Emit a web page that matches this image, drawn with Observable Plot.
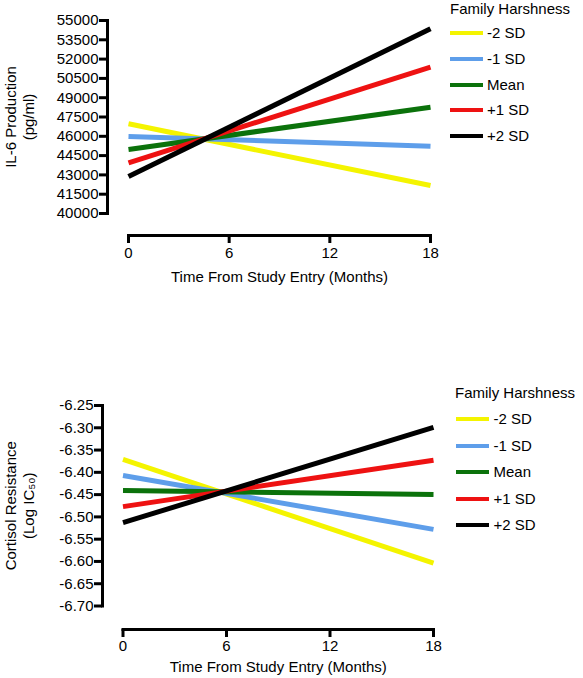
<!DOCTYPE html>
<html><head><meta charset="utf-8">
<script src="https://cdn.jsdelivr.net/npm/d3@7"></script>
<script src="https://cdn.jsdelivr.net/npm/@observablehq/plot@0.6"></script>
<style>
body{margin:0;background:#fff;font-family:"Liberation Sans",Arial,Helvetica,sans-serif;}
#wrap{position:relative;width:583px;height:678px;}
.legend{position:absolute;font-size:15px;color:#000;line-height:18px;}
.legend .row{display:flex;align-items:center;}
.legend .sw{display:inline-block;width:33px;}
</style></head><body><div id="wrap"></div>
<script>
const groups = ["-2 SD", "-1 SD", "Mean", "+1 SD", "+2 SD"];
const colors = ["#f4f400", "#5e9eea", "#0b720b", "#ee1212", "#000000"];
const axisColor = "#000000";
const months = [0, 18];
const monthTicks = [0, 6, 12, 18];

const il6Start = [46970, 45990, 44980, 43940, 42880];
const il6End = [42180, 45230, 48260, 51370, 54350];
const il6Ticks = [40000, 41500, 43000, 44500, 46000, 47500, 49000, 50500, 52000, 53500, 55000];

const cortStart = [-6.371, -6.407, -6.441, -6.477, -6.513];
const cortEnd = [-6.604, -6.528, -6.450, -6.373, -6.299];
const cortTicks = [-6.70, -6.65, -6.60, -6.55, -6.50, -6.45, -6.40, -6.35, -6.30, -6.25];

const xTitle = "Time From Study Entry (Months)";
const legendTitle = "Family Harshness";

function rows(start, end) {
  const out = [];
  groups.forEach((g, i) => {
    out.push({group: g, color: colors[i], month: months[0], value: start[i]});
    out.push({group: g, color: colors[i], month: months[1], value: end[i]});
  });
  return out;
}

function chart(o) {
  const data = rows(o.start, o.end);
  const [ymin, ymax] = d3.extent(o.ticks);
  const [xmin, xmax] = d3.extent(monthTicks);
  const frameW = 583 - o.marginLeft - o.marginRight;
  const frameH = o.height - o.marginTop - o.marginBottom;
  const yAxisPts = [{x: xmin, y: ymin}, {x: xmin, y: ymax}];
  const xAxisPts = [{x: xmin, y: ymin}, {x: xmax, y: ymin}];
  return Plot.plot({
    width: 583, height: o.height,
    marginTop: o.marginTop, marginLeft: o.marginLeft, marginRight: o.marginRight, marginBottom: o.marginBottom,
    style: {fontFamily: '"Liberation Sans", Arial, sans-serif', fontSize: "15px", color: "#000"},
    x: {domain: [xmin, xmax], insetLeft: o.insetLeft, label: null},
    y: {domain: [ymin, ymax], insetBottom: o.insetBottom, label: null},
    color: {type: "identity"},
    marks: [
      Plot.axisY({ticks: o.ticks, tickFormat: o.tickFormat, tickSize: 0, tickPadding: 9, label: null}),
      Plot.axisX({ticks: monthTicks, tickFormat: d => String(d), tickSize: 0, tickPadding: 8 + o.xPad, label: null}),
      Plot.ruleY(o.ticks, {y: d => d, insetLeft: -8, insetRight: frameW, stroke: () => axisColor, strokeWidth: 3}),
      Plot.ruleX(monthTicks, {x: d => d, insetTop: frameH, insetBottom: -8, stroke: () => axisColor, strokeWidth: 3}),
      Plot.line(yAxisPts, {x: "x", y: "y", dx: -o.insetLeft, stroke: () => axisColor, strokeWidth: 3, strokeLinecap: "square"}),
      Plot.line(xAxisPts, {x: "x", y: "y", dy: o.insetBottom, stroke: () => axisColor, strokeWidth: 3, strokeLinecap: "square"}),
      Plot.line(data, {x: "month", y: "value", z: "group", stroke: "color", strokeWidth: 5, strokeLinecap: "butt"}),
      Plot.text([o.yTitle], {text: d => d, frameAnchor: "left", y: (ymin + ymax) / 2, dx: o.yTitleDx, rotate: -90, lineAnchor: "middle", textAnchor: "middle", lineHeight: 1.17, fontSize: 15}),
      Plot.text([xTitle], {text: d => d, frameAnchor: "bottom", x: (xmin + xmax) / 2, dy: o.xTitleDy, lineAnchor: "middle", textAnchor: "middle", fontSize: 15})
    ]
  });
}

function legend(o) {
  const div = document.createElement("div");
  div.className = "legend";
  div.style.left = o.left + "px";
  div.style.top = o.top + "px";
  const t = document.createElement("div");
  t.textContent = legendTitle;
  div.appendChild(t);
  groups.forEach((g, i) => {
    const r = document.createElement("div");
    r.className = "row";
    r.style.height = o.rowH + "px";
    if (i === 0) r.style.marginTop = o.firstGap + "px";
    const s = document.createElement("span");
    s.className = "sw";
    s.style.height = o.swH + "px";
    s.style.background = colors[i];
    s.style.marginLeft = o.swLeft + "px";
    s.style.marginRight = o.gap + "px";
    const l = document.createElement("span");
    l.textContent = g;
    r.appendChild(s); r.appendChild(l);
    div.appendChild(r);
  });
  return div;
}

const wrap = document.getElementById("wrap");

wrap.appendChild(chart({
  start: il6Start, end: il6End, ticks: il6Ticks, tickFormat: d => String(d),
  height: 300, marginTop: 20, marginLeft: 107, marginRight: 153, marginBottom: 65,
  insetLeft: 21, insetBottom: 22, xPad: 4, xTitleDy: 42, yTitleDx: -88,
  yTitle: "IL-6 Production\n(pg/ml)"
}));

wrap.appendChild(chart({
  start: cortStart, end: cortEnd, ticks: cortTicks, tickFormat: d => d.toFixed(2),
  height: 378, marginTop: 105, marginLeft: 102, marginRight: 150, marginBottom: 49,
  insetLeft: 20.5, insetBottom: 23.5, xPad: 2.5, xTitleDy: 38, yTitleDx: -83,
  yTitle: "Cortisol Resistance\n(Log IC\u2085\u2080)"
}));

wrap.appendChild(legend({left: 450, top: 0, rowH: 25.7, firstGap: 2.5, swH: 4, swLeft: 0, gap: 4}));
wrap.appendChild(legend({left: 455, top: 384, rowH: 26.6, firstGap: 3.7, swH: 4, swLeft: 0.5, gap: 5}));
</script>
</body></html>
